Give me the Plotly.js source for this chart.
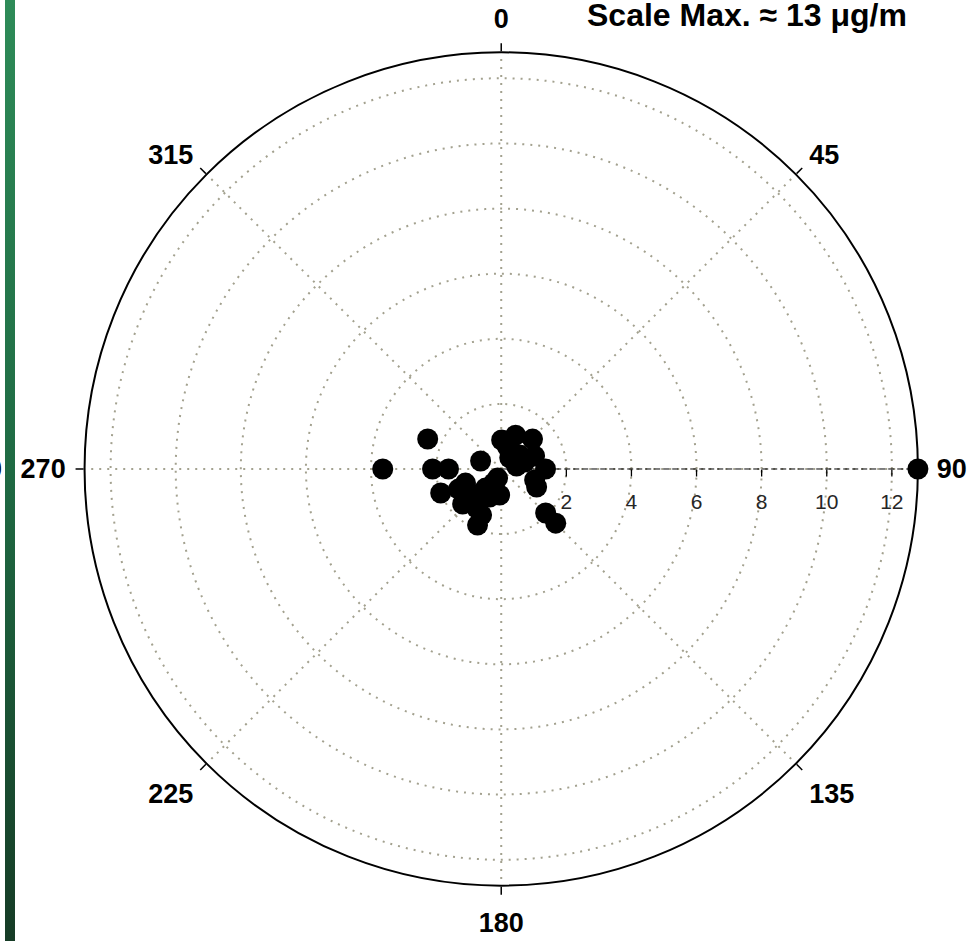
<!DOCTYPE html>
<html>
<head>
<meta charset="utf-8">
<script src="https://cdn.plot.ly/plotly-3.0.1.min.js"></script>
<style>
  html, body { margin: 0; padding: 0; background: #ffffff; }
  #wrap { position: relative; width: 968px; height: 941px; overflow: hidden; }
  #chart { position: absolute; left: 0; top: 0; width: 968px; height: 941px; }
  #sidebar {
    position: absolute; left: 5px; top: 0; width: 10px; height: 941px;
    background: linear-gradient(to bottom, #2e8b58 0%, #1f6a43 50%, #163c26 100%);
    z-index: 5;
  }
</style>
</head>
<body>
<div id="wrap">
  <div id="chart"></div>
  <div id="sidebar"></div>
</div>
<script>
// Wind direction (degrees, clockwise from north) and concentration (µg/m³)
const windDirection = [
  248.5, 244.8, 227.8, 212.2, 202.9, 203.1, 202.5, 208.5, 183.5, 219.4, 229.8, 201.8,
  0.8, 23.0, 46.3, 16.2, 52.7, 68.7, 79.0, 90.0, 108.2, 117.0, 73.3, 37.4,
  134.7, 134.8,
  270.0, 292.2, 270.0, 270.0, 248.4, 291.2,
  90.0
];
const concentration = [
  1.18, 1.45, 1.60, 1.42, 1.87, 1.54, 0.93, 0.49, 0.80, 0.76, 1.19, 0.30,
  0.89, 1.13, 1.33, 0.70, 0.71, 1.10, 0.48, 1.36, 1.08, 1.22, 0.75, 0.43,
  1.92, 2.36,
  3.64, 2.44, 2.11, 1.62, 2.00, 0.68,
  12.8
];

// Axis ticks
const directionTicks = [0, 45, 90, 135, 180, 225, 270, 315];
const directionLabels = ['0', '45', '90', '135', '180', '225', '270', '315'];
const concentrationTicks = [2, 4, 6, 8, 10, 12];
const concentrationLabels = ['2', '4', '6', '8', '10', '12'];
const scaleMax = 12.8;

const gridColor = '#a3a18f';
const gridDash = '2px,6px';
const fontFamily = 'Liberation Sans, Arial, sans-serif';
const boldFont = { family: fontFamily, size: 27, color: '#000000', weight: 700 };
const radialFont = { family: fontFamily, size: 21, color: '#262626' };
const plotDomain = { x: [0.0868, 0.9488], y: [0.0588, 0.9444] };

const traces = [
  {
    // dashed radial axis line along the east spoke
    type: 'scatterpolar',
    subplot: 'polar',
    r: [0, scaleMax],
    theta: [90, 90],
    mode: 'lines',
    line: { color: '#000000', width: 1, dash: '6px,3px' },
    hoverinfo: 'skip',
    cliponaxis: false
  },
  {
    type: 'scatterpolar',
    subplot: 'polar',
    r: concentration,
    theta: windDirection,
    mode: 'markers',
    marker: { color: '#000000', size: 21, line: { width: 0 } },
    cliponaxis: false
  },
  {
    // empty trace so the label layer is drawn
    type: 'scatterpolar',
    subplot: 'polar2',
    r: [],
    theta: [],
    mode: 'markers',
    hoverinfo: 'skip'
  }
];

const layout = {
  width: 968,
  height: 941,
  margin: { l: 0, r: 0, t: 0, b: 0, pad: 0 },
  paper_bgcolor: '#ffffff',
  showlegend: false,
  // main frame: outline, grid, tick marks
  polar: {
    domain: plotDomain,
    bgcolor: 'rgba(0,0,0,0)',
    angularaxis: {
      rotation: 90,
      direction: 'clockwise',
      tickmode: 'array',
      tickvals: directionTicks,
      ticktext: directionLabels,
      showticklabels: false,
      ticks: 'outside',
      ticklen: 8,
      tickwidth: 1.5,
      tickcolor: '#000000',
      showline: true,
      linecolor: '#000000',
      linewidth: 2,
      showgrid: true,
      gridcolor: gridColor,
      gridwidth: 2,
      griddash: gridDash
    },
    radialaxis: {
      range: [0, scaleMax],
      angle: 0,
      tickangle: 0,
      tickmode: 'array',
      tickvals: concentrationTicks,
      ticktext: concentrationLabels,
      showticklabels: false,
      ticks: 'outside',
      ticklen: 7,
      tickwidth: 1.3,
      tickcolor: '#000000',
      showline: false,
      showgrid: true,
      gridcolor: gridColor,
      gridwidth: 2,
      griddash: gridDash
    }
  },
  // label layer: same frame, labels set a little further out
  polar2: {
    domain: plotDomain,
    bgcolor: 'rgba(0,0,0,0)',
    angularaxis: {
      rotation: 90,
      direction: 'clockwise',
      tickmode: 'array',
      tickvals: directionTicks,
      ticktext: directionLabels,
      ticks: 'outside',
      ticklen: 13,
      tickcolor: 'rgba(0,0,0,0)',
      showline: false,
      showgrid: false,
      tickfont: boldFont
    },
    radialaxis: {
      range: [0, scaleMax],
      angle: 0,
      tickangle: 0,
      tickmode: 'array',
      tickvals: concentrationTicks,
      ticktext: concentrationLabels,
      ticks: 'outside',
      ticklen: 14,
      tickcolor: 'rgba(0,0,0,0)',
      showline: false,
      showgrid: false,
      tickfont: radialFont
    }
  },
  annotations: [
    {
      text: 'Scale Max. ≈ 13 μg/m',
      xref: 'paper', yref: 'paper',
      x: 585 / 968, y: 1 - 15 / 941,
      xanchor: 'left', yanchor: 'middle',
      showarrow: false,
      font: { family: fontFamily, size: 32, color: '#000000', weight: 700 }
    },
    {
      text: '90',
      xref: 'paper', yref: 'paper',
      x: 4 / 968, y: 1 - 469 / 941,
      xanchor: 'right', yanchor: 'middle',
      showarrow: false,
      font: boldFont
    }
  ]
};

Plotly.newPlot('chart', traces, layout, { displayModeBar: false, staticPlot: true });
</script>
</body>
</html>
